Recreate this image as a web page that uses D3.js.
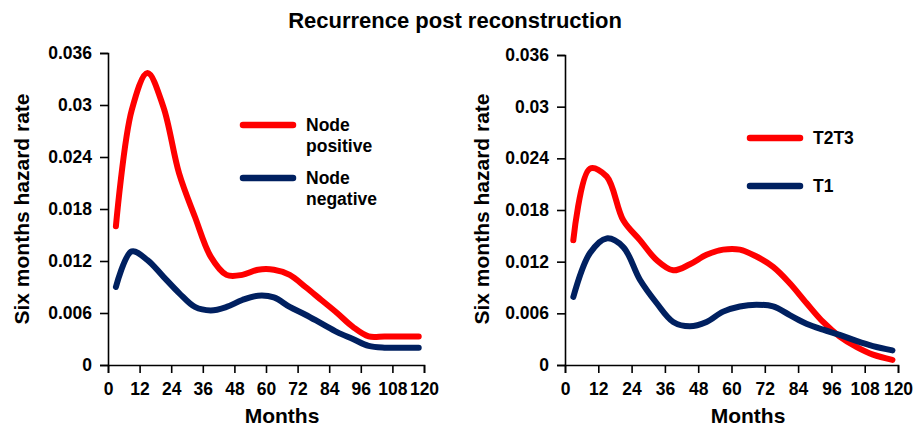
<!DOCTYPE html>
<html>
<head>
<meta charset="utf-8">
<script src="https://cdn.jsdelivr.net/npm/d3@7"></script>
<style>
  body { margin: 0; background: #fff; }
  text { font-family: "Liberation Sans", Arial, sans-serif; font-weight: bold; fill: #000; }
</style>
</head>
<body>
<svg id="chart" width="917" height="428"></svg>
<script>
// chart values
const months = [3, 9, 15, 21, 27, 33, 39, 45, 51, 57, 63, 69, 75, 81, 87, 93, 99, 105, 111, 118];
const nodePositive = [0.0160, 0.0294, 0.0337, 0.0298, 0.0221, 0.0171, 0.0125, 0.0104, 0.0104, 0.0110,
                      0.0110, 0.0104, 0.0090, 0.0075, 0.0060, 0.0044, 0.0033, 0.0033, 0.0033, 0.0033];
const nodeNegative = [0.0090, 0.0131, 0.0121, 0.0102, 0.0083, 0.0067, 0.0063, 0.0067, 0.0075, 0.0080,
                      0.0078, 0.0067, 0.0058, 0.0048, 0.0038, 0.0030, 0.0022, 0.0020, 0.0020, 0.0020];
const t2t3 = [0.0145, 0.0228, 0.0219, 0.0168, 0.0145, 0.0122, 0.0110, 0.0117, 0.0128, 0.0134,
              0.0134, 0.0126, 0.0114, 0.0095, 0.0072, 0.0050, 0.0033, 0.0021, 0.0012, 0.0006];
const t1 = [0.0079, 0.0130, 0.0147, 0.0137, 0.0099, 0.0072, 0.0050, 0.0045, 0.0050, 0.0062,
            0.0068, 0.0070, 0.0068, 0.0058, 0.0048, 0.0041, 0.0035, 0.0028, 0.0022, 0.0017];
const xTicks = [0, 12, 24, 36, 48, 60, 72, 84, 96, 108, 120];
const yTicks = [0, 0.006, 0.012, 0.018, 0.024, 0.03, 0.036];

const RED = '#FF0000';
const NAVY = '#002060';

const svg = d3.select("#chart");

svg.append("text")
    .attr("x", 455)
    .attr("y", 28)
    .attr("text-anchor", "middle")
    .style("font-size", "22px")
    .text("Recurrence post reconstruction");

// one panel: plot box, series, legend
function drawPanel(p) {
    const x = d3.scaleLinear().domain([0, 120]).range([p.left, p.right]);
    const y = d3.scaleLinear().domain([0, 0.036]).range([365, p.top]);

    const xAxis = svg.append("g")
        .attr("transform", "translate(0,365)")
        .call(d3.axisBottom(x).tickValues(xTicks).tickSize(8).tickPadding(10));
    const yAxis = svg.append("g")
        .attr("transform", `translate(${p.left},0)`)
        .call(d3.axisLeft(y).tickValues(yTicks).tickSize(8).tickPadding(8).tickFormat(d => String(d)));

    [xAxis, yAxis].forEach(a => {
        a.select(".domain").attr("stroke", "#000").attr("stroke-width", 1.6);
        a.selectAll(".tick line").attr("stroke", "#000").attr("stroke-width", 1.6);
        a.selectAll(".tick text")
            .style("font-family", '"Liberation Sans", Arial, sans-serif')
            .style("font-weight", "bold")
            .style("font-size", "17.5px")
            .attr("fill", "#000");
    });

    svg.append("text")
        .attr("x", p.xLabelX)
        .attr("y", 423)
        .attr("text-anchor", "middle")
        .style("font-size", "21px")
        .text("Months");

    svg.append("text")
        .attr("transform", `translate(${p.yLabelX},209) rotate(-90)`)
        .attr("text-anchor", "middle")
        .style("font-size", "21px")
        .text("Six months hazard rate");

    const line = d3.line()
        .x((d, i) => x(months[i]))
        .y(d => y(d))
        .curve(d3.curveCatmullRom.alpha(0.5));

    p.series.forEach(s => {
        svg.append("path")
            .datum(s.values)
            .attr("d", line)
            .attr("fill", "none")
            .attr("stroke", s.color)
            .attr("stroke-width", 6)
            .attr("stroke-linecap", "round")
            .attr("stroke-linejoin", "round");

        svg.append("line")
            .attr("x1", p.legendX)
            .attr("x2", p.legendX + 50)
            .attr("y1", s.legendY)
            .attr("y2", s.legendY)
            .attr("stroke", s.color)
            .attr("stroke-width", 6.5)
            .attr("stroke-linecap", "round");

        const t = svg.append("text")
            .attr("x", p.legendX + 63)
            .attr("y", s.legendY + 6)
            .style("font-size", "17.5px");
        s.label.forEach((ln, k) => {
            t.append("tspan")
                .attr("x", p.legendX + 63)
                .attr("dy", k === 0 ? 0 : 21)
                .text(ln);
        });
    });
}

drawPanel({
    left: 108, right: 424, top: 53,
    xLabelX: 282, yLabelX: 29, legendX: 243,
    series: [
        { values: nodePositive, color: RED, legendY: 125, label: ["Node", "positive"] },
        { values: nodeNegative, color: NAVY, legendY: 178, label: ["Node", "negative"] }
    ]
});

drawPanel({
    left: 565, right: 898, top: 55,
    xLabelX: 748, yLabelX: 489, legendX: 750,
    series: [
        { values: t2t3, color: RED, legendY: 138, label: ["T2T3"] },
        { values: t1, color: NAVY, legendY: 186, label: ["T1"] }
    ]
});
</script>
</body>
</html>
